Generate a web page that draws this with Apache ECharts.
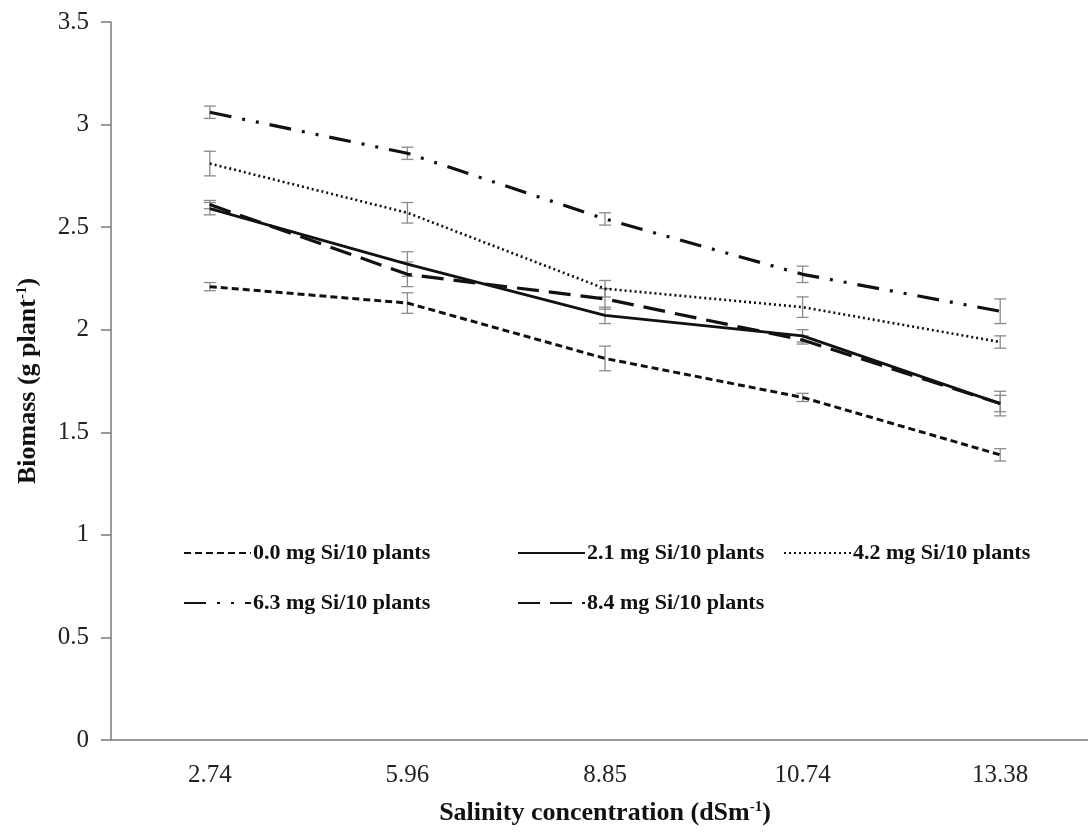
<!DOCTYPE html>
<html>
<head>
<meta charset="utf-8">
<script src="https://cdn.jsdelivr.net/npm/echarts@6/dist/echarts.min.js"></script>
<style>
  html, body { margin: 0; padding: 0; background: #fff; }
  #chart { width: 1088px; height: 834px; }
</style>
</head>
<body>
<div id="chart"></div>
<script>
// salinity levels (dS m-1)
const salinity = ["2.74", "5.96", "8.85", "10.74", "13.38"];

const names = [
  "0.0 mg Si/10 plants",
  "2.1 mg Si/10 plants",
  "4.2 mg Si/10 plants",
  "6.3 mg Si/10 plants",
  "8.4 mg Si/10 plants",
];

// biomass means (g plant-1)
const si00 = [2.21, 2.13, 1.86, 1.67, 1.39];
const si21 = [2.59, 2.32, 2.07, 1.97, 1.64];
const si42 = [2.81, 2.57, 2.20, 2.11, 1.94];
const si63 = [3.06, 2.86, 2.54, 2.27, 2.09];
const si84 = [2.61, 2.27, 2.15, 1.95, 1.64];

// standard errors
const err00 = [0.02, 0.05, 0.06, 0.02, 0.03];
const err21 = [0.03, 0.06, 0.04, 0.03, 0.06];
const err42 = [0.06, 0.05, 0.04, 0.05, 0.03];
const err63 = [0.03, 0.03, 0.03, 0.04, 0.06];
const err84 = [0.02, 0.06, 0.05, 0.02, 0.04];

const means = [si00, si21, si42, si63, si84];
const errs = [err00, err21, err42, err63, err84];

// line dash per treatment
const dashes = [
  [7, 4],
  "solid",
  [2, 3],
  [22, 11, 3, 11, 3, 11],
  [22, 10],
];
const widths = [3, 2.8, 2.6, 3.2, 3.2];

const serif = "'Liberation Serif', 'DejaVu Serif', serif";

let chartMy = echarts.init(document.getElementById("chart"));

function errorBarItem(params, api) {
  let x = api.value(0);
  let y = api.value(1);
  let e = api.value(2);
  let hi = api.coord([x, y + e]);
  let lo = api.coord([x, y - e]);
  let cap = 6;
  let style = { stroke: "#8a8a8a", lineWidth: 1.3 };
  return {
    type: "group",
    children: [
      { type: "line", shape: { x1: hi[0], y1: hi[1], x2: lo[0], y2: lo[1] }, style: style },
      { type: "line", shape: { x1: hi[0] - cap, y1: hi[1], x2: hi[0] + cap, y2: hi[1] }, style: style },
      { type: "line", shape: { x1: lo[0] - cap, y1: lo[1], x2: lo[0] + cap, y2: lo[1] }, style: style },
    ],
  };
}

let series = [];
means.forEach((vals, i) => {
  series.push({
    type: "custom",
    name: names[i] + " err",
    renderItem: errorBarItem,
    data: vals.map((v, k) => [k, v, errs[i][k]]),
    encode: { x: 0, y: 1 },
    z: 1,
    silent: true,
  });
});
means.forEach((vals, i) => {
  series.push({
    type: "line",
    name: names[i],
    data: vals,
    symbol: "none",
    z: 3,
    lineStyle: { color: "#111", width: widths[i], type: dashes[i] },
    itemStyle: { color: "#111" },
  });
});

// one legend block per item so the two-row layout matches
const legendPos = [
  { left: 178, top: 537 },
  { left: 512, top: 537 },
  { left: 778, top: 537 },
  { left: 178, top: 587 },
  { left: 512, top: 587 },
];
let legends = names.map((n, i) => ({
  data: [n],
  left: legendPos[i].left,
  top: legendPos[i].top,
  itemWidth: 67,
  itemHeight: 20,
  itemGap: 0,
  selectedMode: false,
  // hide the default circle marker, keep only the line sample
  itemStyle: { color: "rgba(0,0,0,0)", borderWidth: 0 },
  textStyle: { fontFamily: serif, fontWeight: "bold", fontSize: 22, color: "#111", padding: [0, 0, 0, -3] },
}));

let option = {
  backgroundColor: "#fff",
  animation: false,
  legend: legends,
  grid: { left: 111, top: 22, width: 988, height: 718, outerBoundsMode: "none", containLabel: false },
  xAxis: {
    type: "category",
    data: salinity,
    boundaryGap: true,
    axisLine: { lineStyle: { color: "#7a7a7a", width: 1.5 } },
    axisTick: { alignWithLabel: true, length: 8, lineStyle: { color: "#7a7a7a", width: 1.5 } },
    axisLabel: { fontFamily: serif, fontSize: 25, color: "#222", margin: 23 },
    name: "Salinity concentration (dSm{sup|-1})",
    nameLocation: "middle",
    nameGap: 60,
    nameTextStyle: {
      fontFamily: serif,
      fontWeight: "bold",
      fontSize: 26,
      color: "#111",
      rich: {
        sup: { fontFamily: serif, fontWeight: "bold", fontSize: 15, color: "#111", padding: [0, 0, 12, 0] },
      },
    },
  },
  yAxis: {
    type: "value",
    min: 0,
    max: 3.5,
    interval: 0.5,
    splitLine: { show: false },
    axisLine: { show: true, lineStyle: { color: "#7a7a7a", width: 1.5 } },
    axisTick: { show: true, length: 10, lineStyle: { color: "#7a7a7a", width: 1.5 } },
    axisLabel: { fontFamily: serif, fontSize: 25, color: "#222", margin: 22 },
    name: "Biomass (g plant{sup|-1})",
    nameLocation: "middle",
    nameRotate: 90,
    nameGap: 69,
    nameTextStyle: {
      fontFamily: serif,
      fontWeight: "bold",
      fontSize: 26,
      color: "#111",
      rich: {
        sup: { fontFamily: serif, fontWeight: "bold", fontSize: 15, color: "#111", padding: [0, 0, 12, 0] },
      },
    },
  },
  series: series,
};

chartMy.setOption(option);
window.addEventListener("resize", () => chartMy.resize());
</script>
</body>
</html>
